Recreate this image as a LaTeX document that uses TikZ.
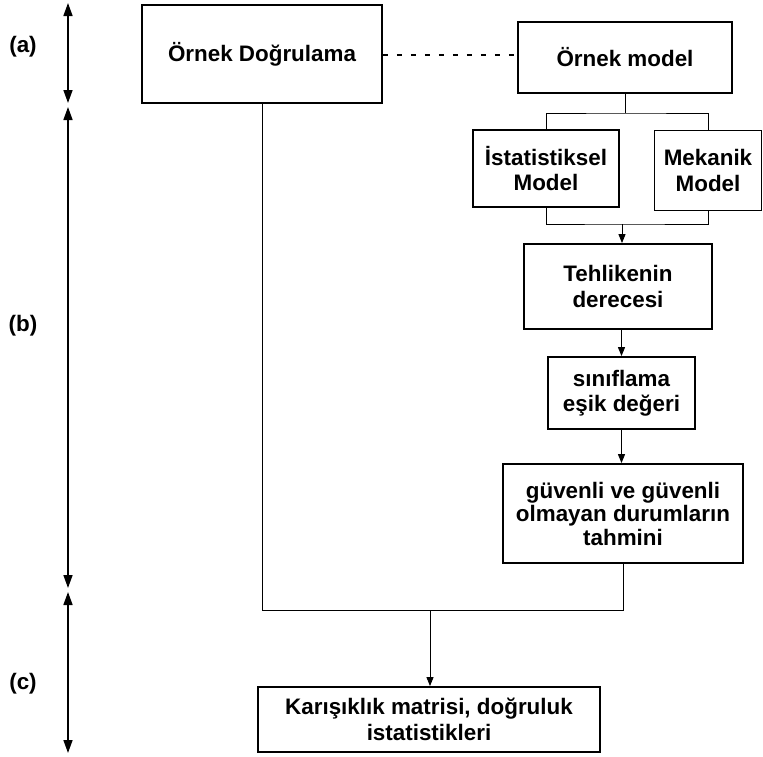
\documentclass[tikz,border=0pt]{standalone}
\usepackage{fontspec}
\setmainfont{Liberation Sans}
\usetikzlibrary{arrows.meta}
\begin{document}
\begin{tikzpicture}[x=1pt,y=-1pt,
  box/.style={draw,line width=1.8pt,align=center,inner sep=2pt,
    font=\fontsize{22.4}{25.5}\selectfont\bfseries},
  conn/.style={line width=0.9pt},
  carrow/.style={conn,-{Triangle[length=9pt,width=7pt]}},
  span/.style={line width=1.6pt,{Triangle[length=13pt,width=9pt]}-{Triangle[length=13pt,width=9pt]}},
  lbl/.style={font=\fontsize{22.4}{26}\selectfont\bfseries}]
\useasboundingbox (0,0) rectangle (763,756);
\fill[white] (0,0) rectangle (763,756);
% boxes
\node[box,minimum width=240pt,minimum height=98pt] (dog) at (262,54) {Örnek Doğrulama};
\node[box,minimum width=214pt,minimum height=71pt] (om) at (625,57.5) {Örnek model};
\node[box,minimum width=146pt,minimum height=77pt] (ist) at (546,168.5) {İstatistiksel\\Model};
\node[box,minimum width=107pt,minimum height=80pt] (mek) at (708,170.5) {Mekanik\\Model};
\node[box,minimum width=188pt,minimum height=85pt] (teh) at (618,286.5) {Tehlikenin\\derecesi};
\node[box,minimum width=147pt,minimum height=72pt] (sin) at (621.5,393) {sınıflama\\eşik değeri};
\node[box,minimum width=240pt,minimum height=99pt,font=\fontsize{22.4}{23.5}\selectfont\bfseries] (guv) at (623,513.5) {güvenli ve güvenli\\olmayan durumların\\tahmini};
\node[box,minimum width=342pt,minimum height=65pt] (kar) at (429,719.5) {Karışıklık matrisi, doğruluk\\istatistikleri};
% side labels
\node[lbl] (la) at (23,47) {(a)};
\node[lbl] (lb) at (23,326) {(b)};
\node[lbl] (lc) at (23,684) {(c)};
\coordinate (a1) at (68,3);
\coordinate (a2) at (68,103);
\coordinate (b1) at (68,107);
\coordinate (b2) at (68,588);
\coordinate (c1) at (68,592);
\coordinate (c2) at (68,753);
\draw[span] (a1) -- (a2);
\draw[span] (b1) -- (b2);
\draw[span] (c1) -- (c2);
% connectors
\draw[line width=1.3pt,dash pattern=on 5pt off 9pt] (dog.east |- 0,55) -- (om.west |- 0,55);
\coordinate (split) at (625,113);
\draw[conn] (om.south) -- (split);
\draw[conn] (ist.north) |- (split) -| (mek.north);
\coordinate (merge) at (622,224);
\draw[conn] (ist.south) |- (merge) -| (mek.south);
\draw[carrow] (merge) -- (merge |- teh.north);
\draw[carrow] (sin.north |- teh.south) -- (sin.north);
\draw[carrow] (sin.south) -- (sin.south |- guv.north);
\coordinate (join) at (430,610);
\draw[conn] (dog.south) |- (join);
\draw[conn] (guv.south) |- (join);
\draw[carrow] (join) -- (join |- kar.north);
\end{tikzpicture}
\end{document}
